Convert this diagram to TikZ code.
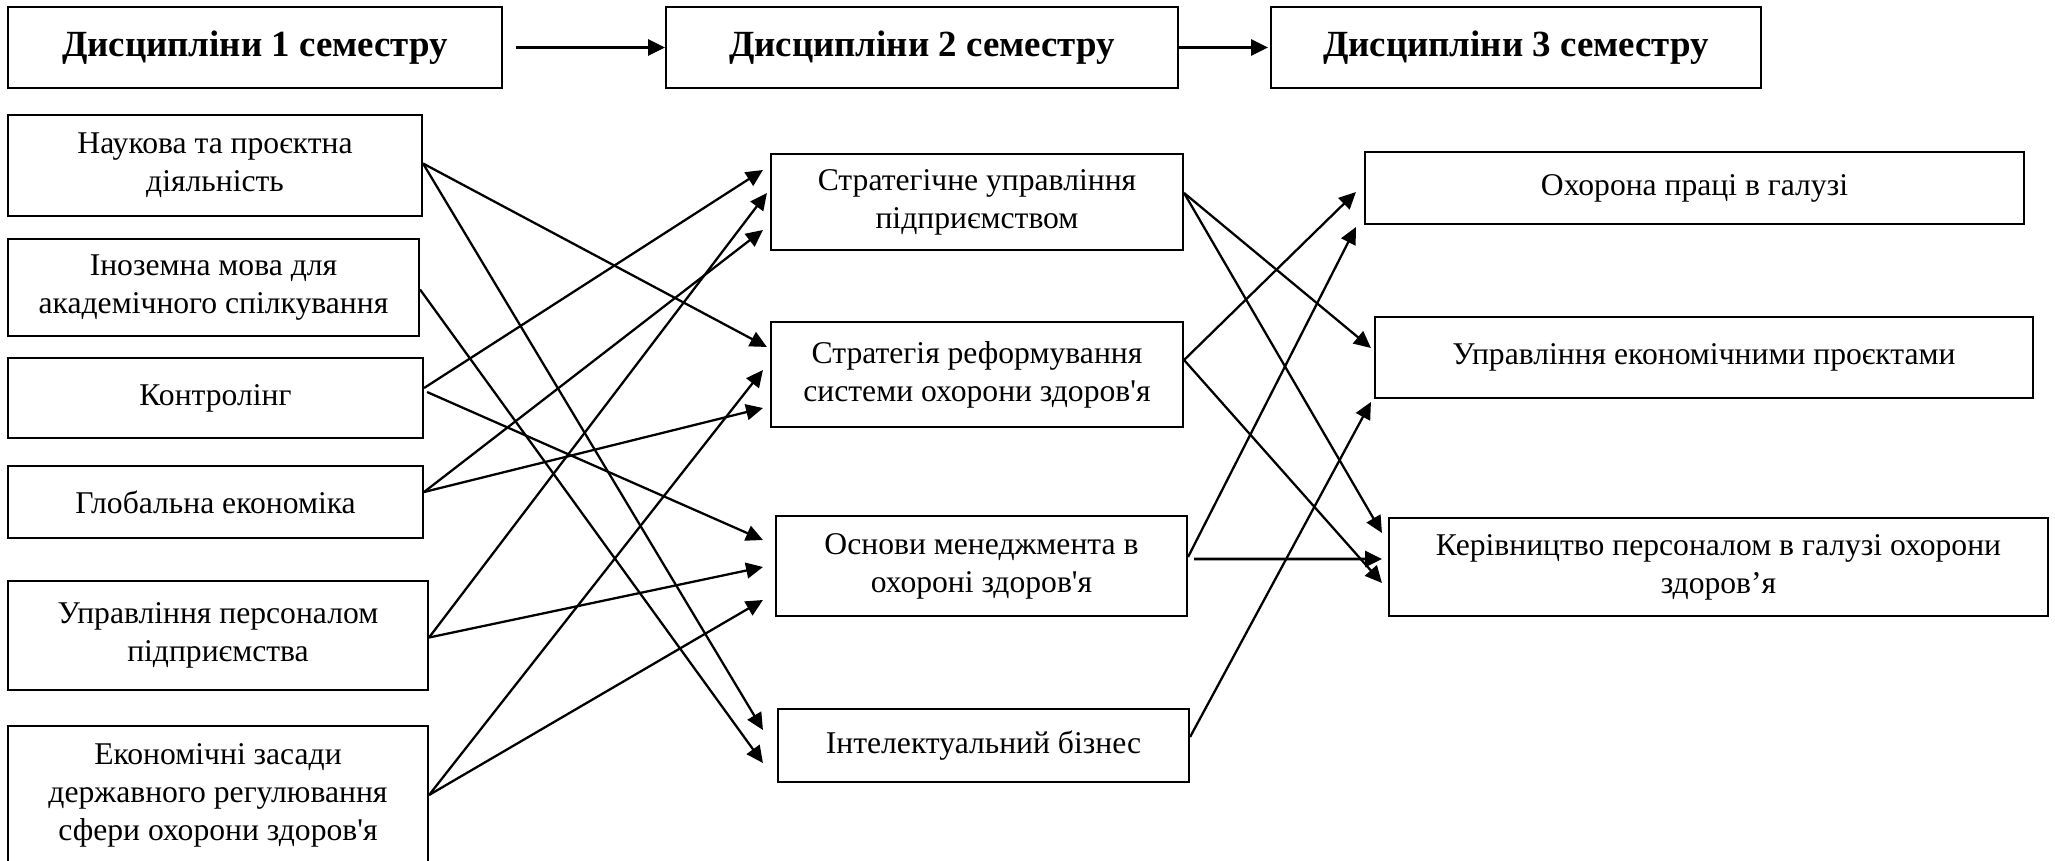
\documentclass[tikz,border=0pt]{standalone}
\usepackage{fontspec}
\setmainfont{Liberation Serif}
\usetikzlibrary{arrows.meta}

\begin{document}
\begin{tikzpicture}[
        box/.style={draw, line width=0.6pt, align=center, inner sep=2pt, font=\fontsize{9}{10.8}\selectfont},
        head/.style={box, minimum height=0.81cm, font=\fontsize{10.5}{12.6}\selectfont\bfseries},
        link/.style={-{Triangle[length=4.8pt,width=4.5pt]}, line width=0.65pt},
        thicklink/.style={link, line width=0.85pt}
    ]
    \useasboundingbox (0,0) rectangle (20.55,-8.6);
    % semesters
    \node[head, minimum width=4.94cm] (T1) at (2.55,-0.475) {Дисципліни 1 семестру};
    \node[head, minimum width=5.12cm] (T2) at (9.22,-0.475) {Дисципліни 2 семестру};
    \node[head, minimum width=4.90cm] (T3) at (15.16,-0.475) {Дисципліни 3 семестру};
    \draw[thicklink] ([xshift=0.13cm]T1.east) -- (T2.west);
    \draw[thicklink] (T2.east) -- ([xshift=-0.02cm]T3.west);
    % 1 semester
    \node[box, minimum width=4.14cm, minimum height=1.01cm] (A1) at (2.15,-1.655) {Наукова та проєктна\\діяльність};
    \node[box, minimum width=4.11cm, minimum height=0.97cm] (A2) at (2.135,-2.875) {Іноземна мова для\\академічного спілкування};
    \node[box, minimum width=4.15cm, minimum height=0.80cm] (A3) at (2.155,-3.98) {Контролінг};
    \node[box, minimum width=4.15cm, minimum height=0.72cm] (A4) at (2.155,-5.02) {Глобальна економіка};
    \node[box, minimum width=4.20cm, minimum height=1.09cm] (A5) at (2.18,-6.355) {Управління персоналом\\підприємства};
    \node[box, minimum width=4.20cm, minimum height=1.38cm] (A6) at (2.18,-7.95) {Економічні засади\\державного регулювання\\сфери охорони здоров\textquotesingle я};
    % 2 semester
    \node[box, minimum width=4.12cm, minimum height=0.96cm] (B1) at (9.77,-2.02) {Стратегічне управління\\підприємством};
    \node[box, minimum width=4.12cm, minimum height=1.05cm] (B2) at (9.77,-3.745) {Стратегія реформування\\системи охорони здоров\textquotesingle я};
    \node[box, minimum width=4.11cm, minimum height=1.00cm] (B3) at (9.815,-5.66) {Основи менеджмента в\\охороні здоров\textquotesingle я};
    \node[box, minimum width=4.11cm, minimum height=0.73cm] (B4) at (9.835,-7.455) {Інтелектуальний бізнес};
    % 3 semester
    \node[box, minimum width=6.59cm, minimum height=0.72cm] (C1) at (16.945,-1.88) {Охорона праці в галузі};
    \node[box, minimum width=6.58cm, minimum height=0.81cm] (C2) at (17.04,-3.575) {Управління економічними проєктами};
    \node[box, minimum width=6.59cm, minimum height=0.98cm] (C3) at (17.185,-5.67) {Керівництво персоналом в галузі охорони\\здоров’я};
    % 1 -> 2
    \draw[link] ([yshift=0.02cm]A1.east) -- ([xshift=-0.03cm,yshift=0.275cm]B2.west);
    \draw[link] ([yshift=0.02cm]A1.east) -- ([xshift=-0.14cm,yshift=0.155cm]B4.west);
    \draw[link] ([yshift=-0.02cm]A2.east) -- ([xshift=-0.14cm,yshift=-0.175cm]B4.west);
    \draw[link] ([yshift=0.10cm]A3.east) -- ([xshift=-0.07cm,yshift=0.32cm]B1.west);
    \draw[link] ([xshift=0.03cm,yshift=0.06cm]A3.east) -- ([xshift=-0.12cm,yshift=0.26cm]B3.west);
    \draw[link] ([yshift=0.10cm]A4.east) -- ([xshift=-0.07cm,yshift=-0.28cm]B1.west);
    \draw[link] ([yshift=0.10cm]A4.east) -- ([xshift=-0.07cm,yshift=-0.335cm]B2.west);
    \draw[link] ([yshift=-0.02cm]A5.east) -- ([xshift=-0.03cm,yshift=0.09cm]B1.west);
    \draw[link] ([yshift=-0.02cm]A5.east) -- ([xshift=-0.12cm,yshift=-0.01cm]B3.west);
    \draw[link] (A6.east) -- ([xshift=-0.07cm,yshift=0.045cm]B2.west);
    \draw[link] (A6.east) -- ([xshift=-0.12cm,yshift=-0.34cm]B3.west);
    % 2 -> 3
    \draw[link] ([yshift=0.09cm]B1.east) -- ([xshift=-0.03cm,yshift=0.095cm]C2.west);
    \draw[link] ([yshift=0.09cm]B1.east) -- ([xshift=-0.06cm,yshift=0.34cm]C3.west);
    \draw[link] ([yshift=0.145cm]B2.east) -- ([xshift=-0.08cm,yshift=-0.04cm]C1.west);
    \draw[link] ([yshift=0.145cm]B2.east) -- ([xshift=-0.06cm,yshift=-0.16cm]C3.west);
    \draw[link] ([yshift=0.09cm]B3.east) -- ([xshift=-0.08cm,yshift=-0.39cm]C1.west);
    \draw[thicklink] ([xshift=0.06cm,yshift=0.07cm]B3.east) -- ([xshift=-0.06cm,yshift=0.08cm]C3.west);
    \draw[link] ([yshift=0.085cm]B4.east) -- ([xshift=-0.03cm,yshift=-0.445cm]C2.west);
\end{tikzpicture}
\end{document}
